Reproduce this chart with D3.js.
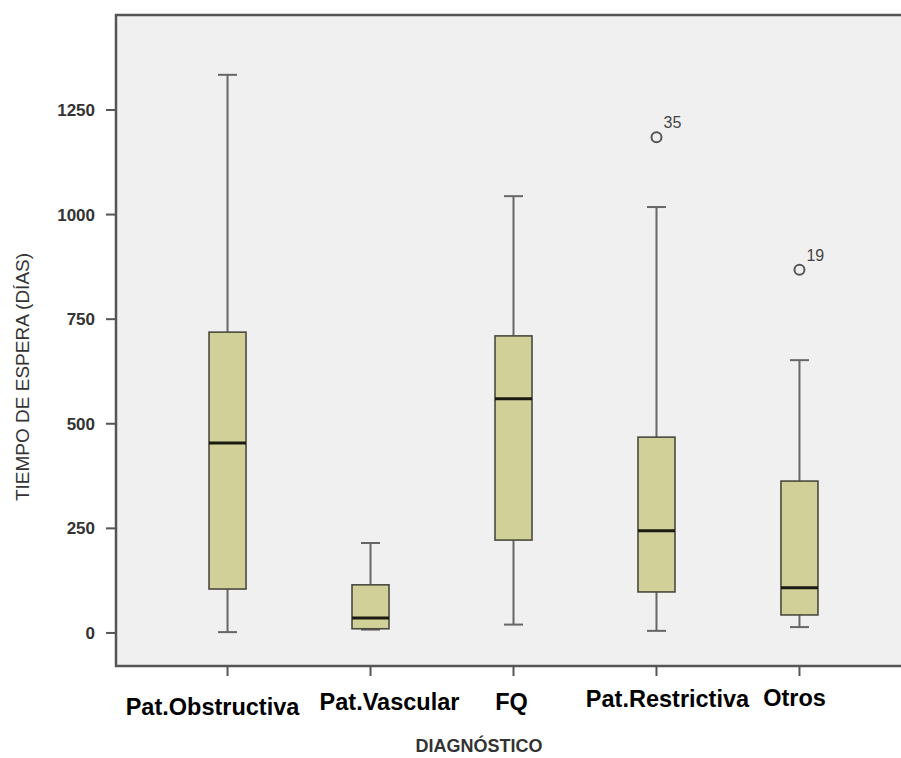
<!DOCTYPE html>
<html>
<head>
<meta charset="utf-8">
<script src="https://cdn.jsdelivr.net/npm/d3@7"></script>
<style>
  body { margin: 0; background: #fff; }
  text { font-family: "Liberation Sans", Arial, sans-serif; }
</style>
</head>
<body>
<div id="chart"></div>
<script>
// diagnosis groups and their box plot stats (dias)
const categories = ["Pat.Obstructiva", "Pat.Vascular", "FQ", "Pat.Restrictiva", "Otros"];
const whiskerLow  = [2, 8, 20, 5, 14];
const q1          = [105, 10, 222, 98, 43];
const median      = [454, 36, 560, 244, 108];
const q3          = [719, 115, 710, 468, 363];
const whiskerHigh = [1334, 215, 1044, 1018, 652];
const outliers = [
    {cat: "Pat.Restrictiva", value: 1185, label: "35"},
    {cat: "Otros", value: 868, label: "19"}
];
const yTicks = [0, 250, 500, 750, 1000, 1250];

const width = 901, height = 758;
const plotL = 116, plotT = 15, plotB = 666, plotR = 911;

const svg = d3.select("#chart").append("svg")
    .attr("width", width).attr("height", height);

const y = d3.scaleLinear().domain([-79, 1477]).range([plotB, plotT]);
const x = d3.scalePoint().domain(categories).range([plotL, plotR]).padding(0.78);

// plot background
svg.append("rect")
    .attr("x", plotL).attr("y", plotT)
    .attr("width", plotR - plotL).attr("height", plotB - plotT)
    .attr("fill", "#f0f0f0");

const boxes = categories.map((c, i) => ({
    cat: c, lo: whiskerLow[i], q1: q1[i], med: median[i], q3: q3[i], hi: whiskerHigh[i]
}));

const boxW = 37, capW = 19;
const g = svg.append("g");
const b = g.selectAll("g.box").data(boxes).enter().append("g").attr("class", "box");

// whiskers
b.append("line")
    .attr("x1", d => x(d.cat)).attr("x2", d => x(d.cat))
    .attr("y1", d => y(d.hi)).attr("y2", d => y(d.q3))
    .attr("stroke", "#666").attr("stroke-width", 2);
b.append("line")
    .attr("x1", d => x(d.cat)).attr("x2", d => x(d.cat))
    .attr("y1", d => y(d.q1)).attr("y2", d => y(d.lo))
    .attr("stroke", "#666").attr("stroke-width", 2);
b.append("line")
    .attr("x1", d => x(d.cat) - capW/2).attr("x2", d => x(d.cat) + capW/2)
    .attr("y1", d => y(d.hi)).attr("y2", d => y(d.hi))
    .attr("stroke", "#666").attr("stroke-width", 2);
b.append("line")
    .attr("x1", d => x(d.cat) - capW/2).attr("x2", d => x(d.cat) + capW/2)
    .attr("y1", d => y(d.lo)).attr("y2", d => y(d.lo))
    .attr("stroke", "#666").attr("stroke-width", 2);

// box
b.append("rect")
    .attr("x", d => x(d.cat) - boxW/2)
    .attr("y", d => y(d.q3))
    .attr("width", boxW)
    .attr("height", d => y(d.q1) - y(d.q3))
    .attr("fill", "#d0d098")
    .attr("stroke", "#4a4a40").attr("stroke-width", 1.6);

// median
b.append("line")
    .attr("x1", d => x(d.cat) - boxW/2).attr("x2", d => x(d.cat) + boxW/2)
    .attr("y1", d => y(d.med)).attr("y2", d => y(d.med))
    .attr("stroke", "#1a1a10").attr("stroke-width", 3);

// outliers
const o = g.selectAll("g.out").data(outliers).enter().append("g");
o.append("circle")
    .attr("cx", d => x(d.cat)).attr("cy", d => y(d.value))
    .attr("r", 5)
    .attr("fill", "none").attr("stroke", "#555").attr("stroke-width", 2);
o.append("text")
    .attr("x", d => x(d.cat) + 7).attr("y", d => y(d.value) - 9)
    .attr("font-size", 16).attr("fill", "#444")
    .text(d => d.label);

// frame
svg.append("path")
    .attr("d", `M${plotR},${plotT}H${plotL}V${plotB}H${plotR}`)
    .attr("fill", "none").attr("stroke", "#555").attr("stroke-width", 2.5);

// y axis ticks
const yt = svg.append("g").selectAll("g").data(yTicks).enter().append("g");
yt.append("line")
    .attr("x1", plotL - 10).attr("x2", plotL)
    .attr("y1", d => y(d)).attr("y2", d => y(d))
    .attr("stroke", "#555").attr("stroke-width", 2);
yt.append("text")
    .attr("x", plotL - 21).attr("y", d => y(d))
    .attr("dy", "0.36em")
    .attr("text-anchor", "end")
    .attr("font-size", 17).attr("font-weight", "bold").attr("fill", "#333")
    .text(d => d);

// x axis ticks and labels
const labelShift = [-15, 19, -2, 11, -5];
const labelDrop = [715, 710, 710, 707, 706];
const xt = svg.append("g").selectAll("g").data(categories).enter().append("g");
xt.append("line")
    .attr("x1", d => x(d)).attr("x2", d => x(d))
    .attr("y1", plotB).attr("y2", plotB + 10)
    .attr("stroke", "#555").attr("stroke-width", 2);
xt.append("text")
    .attr("x", (d, i) => x(d) + labelShift[i])
    .attr("y", (d, i) => labelDrop[i])
    .attr("text-anchor", "middle")
    .attr("font-size", 23.5).attr("font-weight", "bold").attr("fill", "#000")
    .text(d => d);

// axis titles
svg.append("text")
    .attr("x", 479).attr("y", 752)
    .attr("text-anchor", "middle")
    .attr("font-size", 18).attr("font-weight", "bold").attr("fill", "#333")
    .text("DIAGNÓSTICO");

svg.append("text")
    .attr("transform", "translate(29,377) rotate(-90)")
    .attr("text-anchor", "middle")
    .attr("font-size", 19).attr("fill", "#333")
    .text("TIEMPO DE ESPERA (DÍAS)");
</script>
</body>
</html>
